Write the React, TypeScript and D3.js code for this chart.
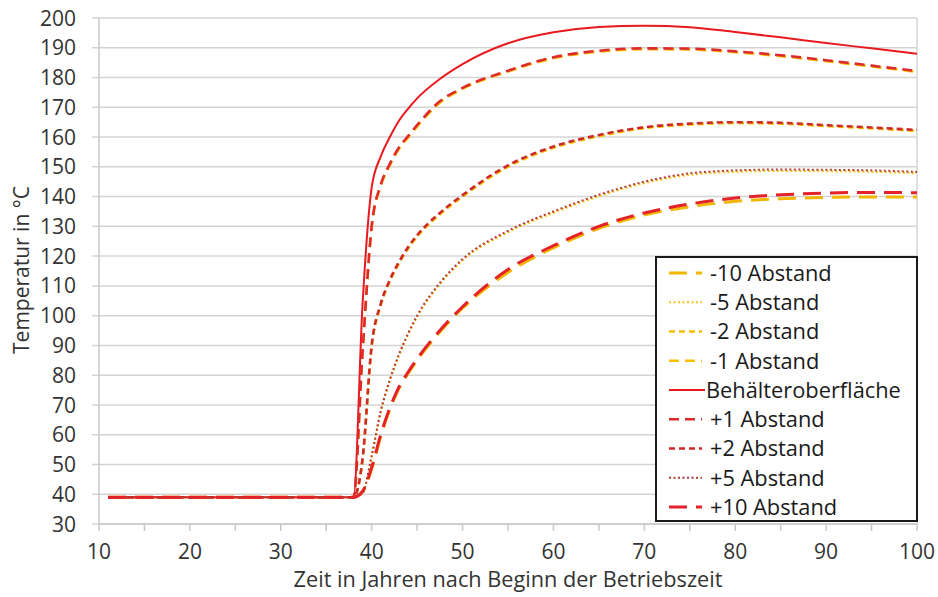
import React from "react";
import * as d3 from "d3";

// ---- data ----
const years = [11, 38, 39, 40, 41, 42, 43, 44, 45, 47.5, 50, 55, 60, 65, 70, 75, 80, 85, 90, 95, 100];

const minus10 = [39, 39, 40.8, 48.5, 59.5, 68.5, 75.5, 80.5, 85, 94.5, 102.5, 114.5, 122.8, 129.3, 133.8, 136.6, 138.4, 139.3, 139.7, 139.9, 139.9];
const minus5 = [39, 39, 40.3, 52.5, 67.5, 78, 86.5, 93.5, 99.5, 110.5, 118.5, 128, 134.5, 140.1, 144.5, 147.3, 148.3, 148.6, 148.5, 148.3, 147.8];
const minus2 = [39, 39, 51.5, 89.5, 103.5, 111.5, 117.5, 122.5, 126.5, 134, 140, 150, 156.4, 160.3, 163, 164.2, 164.7, 164.5, 163.7, 162.9, 162.1];
const minus1 = [39, 39, 87.5, 129.5, 143.5, 150.5, 156, 159.8, 163.5, 171.5, 176.2, 182, 186.5, 188.7, 189.5, 189.4, 188.5, 187.2, 185.5, 183.7, 181.9];
const surface = [39, 39, 104, 143, 153.5, 160, 165.5, 169.5, 173, 179.5, 184.5, 191.5, 195.2, 197, 197.4, 196.9, 195.3, 193.5, 191.6, 189.8, 188];
const plus1 = [39, 39, 88, 130, 144, 151, 156.5, 160.3, 164, 172, 176.5, 182.3, 186.8, 189, 189.8, 189.7, 188.8, 187.5, 185.8, 184, 182.2];
const plus2 = [39, 39, 52, 90, 104, 112, 118, 123, 127, 134.5, 140.5, 150.5, 156.8, 160.7, 163.3, 164.5, 165, 164.8, 164, 163.2, 162.4];
const plus5 = [39, 39, 40.5, 53, 68, 78.5, 87, 94, 100, 111, 119, 128.5, 135, 140.6, 145, 147.8, 148.8, 149.1, 149, 148.8, 148.3];
const plus10 = [39, 39, 41, 49, 60, 69, 76, 81, 85.5, 95, 103, 115.5, 123.5, 130, 134.5, 137.5, 139.5, 140.6, 141.2, 141.4, 141.3];

const seriesNames = [
  "-10 Abstand",
  "-5 Abstand",
  "-2 Abstand",
  "-1 Abstand",
  "Behälteroberfläche",
  "+1 Abstand",
  "+2 Abstand",
  "+5 Abstand",
  "+10 Abstand",
];
const seriesValues = [minus10, minus5, minus2, minus1, surface, plus1, plus2, plus5, plus10];

const xTickValues = [10, 20, 30, 40, 50, 60, 70, 80, 90, 100];
const xMinorTicks = [10, 15, 20, 25, 30, 35, 40, 45, 50, 55, 60, 65, 70, 75, 80, 85, 90, 95, 100];
const yTickValues = [30, 40, 50, 60, 70, 80, 90, 100, 110, 120, 130, 140, 150, 160, 170, 180, 190, 200];

const xTitle = "Zeit in Jahren nach Beginn der Betriebszeit";
const yTitle = "Temperatur in °C";

// ---- styles ----
const seriesStyles = [
  { color: "#f2b600", width: 3, dash: "18,9" },
  { color: "#f5c518", width: 2, dash: "2,2.5" },
  { color: "#f5c000", width: 2.6, dash: "6,4" },
  { color: "#f5c000", width: 2.6, dash: "10,6" },
  { color: "#e8191f", width: 2, dash: "" },
  { color: "#dd2a2c", width: 2.6, dash: "10,6" },
  { color: "#cc2a2a", width: 2.6, dash: "6,4" },
  { color: "#b53a32", width: 2, dash: "2,2.5" },
  { color: "#e4222a", width: 3, dash: "18,9" },
];

const W = 938;
const H = 597;
const M = { left: 99, right: 917, top: 18, bottom: 524 };
const FONT = "'Open Sans', sans-serif";

export default function App() {
  const x = d3.scaleLinear().domain([10, 100]).range([M.left, M.right]);
  const y = d3.scaleLinear().domain([30, 200]).range([M.bottom, M.top]);
  const line = d3
    .line<number>()
    .x((_, i) => x(years[i]))
    .y((d) => y(d))
    .curve(d3.curveMonotoneX);

  const legend = { x: 656, y: 257, w: 261, h: 264 };
  const rowH = 29.25;

  return (
    <svg
      width={W}
      height={H}
      style={{ position: "absolute", left: 0, top: 0, background: "#fff" }}
      fontFamily={FONT}
    >
      <rect x={0} y={0} width={W} height={H} fill="#fff" />
      {/* gridlines */}
      {yTickValues.map((v) => (
        <line
          key={"g" + v}
          x1={M.left - 7}
          x2={M.right}
          y1={y(v)}
          y2={y(v)}
          stroke="#d4d4d4"
          strokeWidth={1.5}
        />
      ))}
      {/* axes */}
      <line x1={M.left} x2={M.left} y1={M.top} y2={M.bottom} stroke="#c8c8c8" strokeWidth={1.5} />
      <line x1={M.right} x2={M.right} y1={M.top} y2={M.bottom} stroke="#d4d4d4" strokeWidth={1.5} />
      <line x1={M.left} x2={M.right} y1={M.bottom} y2={M.bottom} stroke="#c8c8c8" strokeWidth={1.5} />
      {xMinorTicks.map((v) => (
        <line
          key={"t" + v}
          x1={x(v)}
          x2={x(v)}
          y1={M.bottom}
          y2={M.bottom + 7}
          stroke="#c8c8c8"
          strokeWidth={1.5}
        />
      ))}
      {/* tick labels */}
      {yTickValues.map((v) => (
        <text
          key={"yl" + v}
          x={76}
          y={y(v)}
          dy="0.36em"
          textAnchor="end"
          fontSize={21}
          fill="#333"
        >
          {v}
        </text>
      ))}
      {xTickValues.map((v) => (
        <text
          key={"xl" + v}
          x={x(v)}
          y={559}
          textAnchor="middle"
          fontSize={21}
          fill="#333"
        >
          {v}
        </text>
      ))}
      <text x={(M.left + M.right) / 2} y={587} textAnchor="middle" fontSize={21.7} fill="#333">
        {xTitle}
      </text>
      <text
        transform={`translate(29,270) rotate(-90)`}
        textAnchor="middle"
        fontSize={21}
        fill="#333"
      >
        {yTitle}
      </text>
      {/* series */}
      {seriesValues.map((vals, i) => (
        <path
          key={"s" + i}
          d={line(vals) || ""}
          fill="none"
          stroke={seriesStyles[i].color}
          strokeWidth={seriesStyles[i].width}
          strokeDasharray={seriesStyles[i].dash || undefined}
          strokeLinejoin="round"
        />
      ))}
      {/* legend */}
      <rect
        x={legend.x}
        y={legend.y}
        width={legend.w}
        height={legend.h}
        fill="#fff"
        stroke="#1a1a1a"
        strokeWidth={2}
      />
      {seriesNames.map((name, i) => {
        const cy = legend.y + 16 + i * rowH;
        const st = seriesStyles[i];
        const isSolid = !st.dash;
        return (
          <g key={"lg" + i}>
            <line
              x1={669}
              x2={isSolid ? 705 : 702}
              y1={cy}
              y2={cy}
              stroke={st.color}
              strokeWidth={st.width}
              strokeDasharray={st.dash || undefined}
            />
            <text
              x={isSolid ? 706 : 710}
              y={cy}
              dy="0.36em"
              fontSize={21.8}
              fill="#1a1a1a"
            >
              {name}
            </text>
          </g>
        );
      })}
    </svg>
  );
}
